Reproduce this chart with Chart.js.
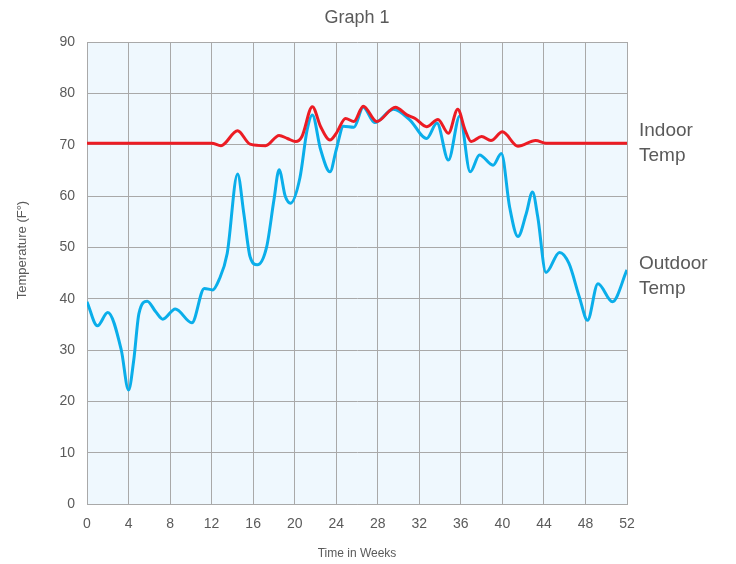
<!DOCTYPE html>
<html>
<head>
<meta charset="utf-8">
<script src="https://cdn.jsdelivr.net/npm/chart.js@4/dist/chart.umd.min.js"></script>
<style>
html,body{margin:0;padding:0;background:#fff;}
#wrap{width:736px;height:564px;position:relative;}
</style>
</head>
<body>
<div id="wrap"><canvas id="c" width="736" height="564"></canvas></div>
<script>
const chartTitle = 'Graph 1';
const xAxisTitle = 'Time in Weeks';
const yAxisTitle = 'Temperature (F°)';
const xTicks = [0,4,8,12,16,20,24,28,32,36,40,44,48,52];
const yTicks = [0,10,20,30,40,50,60,70,80,90];

const outdoorWeeks = [0,1,2,3.3,4,4.5,5,5.8,6.6,7.3,8.5,10.1,11.3,12.1,12.7,13.5,14.5,15.1,15.7,16.4,17.3,18,18.5,19.1,19.6,20.5,21.2,21.7,22.5,23.4,24,24.7,25.7,26.6,27.7,29.5,31.1,32.7,33.7,34.8,35.9,36.9,37.8,39.1,39.9,40.7,41.5,42.3,42.9,43.4,44.2,45.5,46.4,47.4,48.2,49.2,50.6,52];
const outdoorTemps = [39.4,34.7,37.3,30,22.2,28,37.1,39.5,37.5,36,38,35.3,42,41.7,43.6,48.8,64.3,56.6,48.2,46.6,50.1,59.2,65.1,59.9,58.6,63.5,72.9,75.8,69,64.7,69,73.6,73.4,77.3,74.3,76.9,74.8,71.2,74.2,67,75.6,64.7,68,66,68.3,57.8,52.1,56.6,60.8,56,45.1,49,46.9,40.4,35.8,42.9,39.4,45.6];

const indoorWeeks = [0,12,12.9,14.5,15.7,17.2,18.5,19.3,20.1,20.7,21.7,22.5,23.4,24,24.9,25.7,26.6,27.9,29.7,30.8,31.6,32.7,33.8,34.8,35.7,36.4,37,38,38.9,40,41.5,43.2,44.2,52];
const indoorTemps = [70.3,70.3,69.8,72.7,70.1,69.8,71.8,71.2,70.6,71.6,77.4,73.5,70.9,72.2,75.1,74.5,77.5,74.5,77.3,75.8,75.1,73.5,74.9,72.2,76.9,72.9,70.6,71.6,70.8,72.5,69.7,70.8,70.3,70.3];

const seriesNames = ['Indoor Temp', 'Outdoor Temp'];
const seriesLabelLines = [['Indoor','Temp'], ['Outdoor','Temp']];

const pts = (xs, ys) => xs.map((x, i) => ({x: x, y: ys[i]}));

const textColor = '#5a5a5a';
const gridColor = '#a9a9a9';
const fontFam = '"Liberation Sans", Arial, Helvetica, sans-serif';

const bgPlugin = {
  id: 'plotBg',
  beforeDraw(chart) {
    const {ctx, chartArea: a} = chart;
    ctx.save();
    ctx.fillStyle = '#eff8fe';
    ctx.fillRect(a.left, a.top, a.right - a.left, a.bottom - a.top);
    ctx.restore();
  }
};

const textPlugin = {
  id: 'texts',
  afterDraw(chart) {
    const {ctx, chartArea: a, scales} = chart;
    ctx.save();
    ctx.fillStyle = textColor;
    ctx.font = '18px ' + fontFam;
    ctx.textAlign = 'center';
    ctx.textBaseline = 'middle';
    ctx.fillText(chartTitle, (a.left + a.right) / 2, 18);
    ctx.save();
    ctx.translate(22, (a.top + a.bottom) / 2 - 23);
    ctx.rotate(-Math.PI / 2);
    ctx.font = '13px ' + fontFam;
    ctx.fillText(yAxisTitle, 0, 0);
    ctx.restore();
    ctx.font = '19px ' + fontFam;
    ctx.textAlign = 'left';
    chart.data.datasets.forEach((ds, i) => {
      const last = ds.data[ds.data.length - 1];
      const yc = scales.y.getPixelForValue(last.y);
      const lines = seriesLabelLines[i];
      const lh = 25;
      const x = scales.x.getPixelForValue(52) + 12;
      const y0 = yc - (lines.length - 1) * lh / 2 + (i === 0 ? 0 : 6);
      lines.forEach((t, k) => ctx.fillText(t, x, y0 + k * lh));
    });
    ctx.restore();
  }
};

new Chart(document.getElementById('c'), {
  type: 'line',
  data: {
    datasets: [
      {
        label: seriesNames[0],
        data: pts(indoorWeeks, indoorTemps),
        borderColor: '#ec1c24',
        borderWidth: 3,
        pointRadius: 0,
        cubicInterpolationMode: 'monotone',
        fill: false
      },
      {
        label: seriesNames[1],
        data: pts(outdoorWeeks, outdoorTemps),
        borderColor: '#0aaeea',
        borderWidth: 3,
        pointRadius: 0,
        cubicInterpolationMode: 'monotone',
        fill: false
      }
    ]
  },
  options: {
    responsive: false,
    animation: false,
    events: [],
    layout: { padding: { top: 42, right: 109, left: 0, bottom: 0 } },
    plugins: {
      legend: { display: false },
      title: { display: false },
      tooltip: { enabled: false }
    },
    scales: {
      x: {
        type: 'linear',
        min: 0, max: 52,
        afterBuildTicks(scale) { scale.ticks = xTicks.map(v => ({value: v})); },
        afterFit(scale) { scale.height = 60; },
        ticks: { color: textColor, font: { family: fontFam, size: 14 }, padding: 12, maxRotation: 0, autoSkip: false },
        grid: { color: gridColor, lineWidth: 1, drawTicks: false },
        border: { color: gridColor, width: 1 },
        title: { display: true, text: xAxisTitle, color: textColor, font: { family: fontFam, size: 12 }, padding: { top: 0, bottom: 3 } }
      },
      y: {
        min: 0, max: 90,
        afterBuildTicks(scale) { scale.ticks = yTicks.map(v => ({value: v})); },
        afterFit(scale) { scale.width = 87; },
        ticks: { color: textColor, font: { family: fontFam, size: 14 }, padding: 12 },
        grid: { color: gridColor, lineWidth: 1, drawTicks: false },
        border: { color: gridColor, width: 1 }
      }
    }
  },
  plugins: [bgPlugin, textPlugin]
});
</script>
</body>
</html>
